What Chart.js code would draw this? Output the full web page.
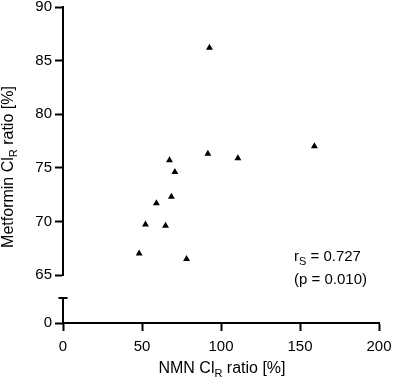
<!DOCTYPE html>
<html>
<head>
<meta charset="utf-8">
<script src="https://cdn.jsdelivr.net/npm/chart.js@4"></script>
<style>
  html, body { margin: 0; padding: 0; background: #fff; }
</style>
</head>
<body>
<canvas id="chart" width="393" height="383"></canvas>
<script>
// NMN ClR ratio [%] against metformin ClR ratio [%], one triangle per subject
const nmnRatio = [48.2, 52.2, 59.1, 64.9, 67.4, 68.6, 70.8, 78.2, 91.7, 92.7, 110.7, 159.1];
const metforminRatio = [67.0, 69.7, 71.7, 69.6, 75.7, 72.3, 74.6, 66.5, 76.3, 86.2, 75.9, 77.0];
const xTicks = [0, 50, 100, 150, 200];
const yTicksUpper = [65, 70, 75, 80, 85, 90];
const yTicksLower = [0];
const rsValue = '0.727';
const pValue = '(p = 0.010)';

const FONT = "'Liberation Sans', Arial, sans-serif";
const INK = '#000';
const lowerCap = 25; // top of the short axis piece under the break

function axisStyle() {
    return {
        grid: { drawOnChartArea: false, drawTicks: true, tickLength: 8, tickWidth: 2, tickColor: INK },
        border: { color: INK, width: 2 },
        ticks: { color: INK, font: { family: FONT, size: 15 }, padding: 3 }
    };
}

// draw text pieces [text, size, yShift] in a row
function drawPieces(ctx, pieces, x, y, align) {
    let total = 0;
    pieces.forEach(p => { ctx.font = p[1] + 'px ' + FONT; total += ctx.measureText(p[0]).width; });
    let cx = align === 'center' ? x - total / 2 : x;
    ctx.textAlign = 'left';
    ctx.textBaseline = 'alphabetic';
    pieces.forEach(p => {
        ctx.font = p[1] + 'px ' + FONT;
        ctx.fillText(p[0], cx, y + p[2]);
        cx += ctx.measureText(p[0]).width;
    });
}

const extras = {
    id: 'extras',
    afterDraw(chart) {
        const ctx = chart.ctx;
        const area = chart.chartArea;
        const low = chart.scales.y0;
        ctx.save();
        ctx.strokeStyle = INK;
        ctx.lineWidth = 2;
        const capY = low.getPixelForValue(lowerCap);
        const zeroY = low.getPixelForValue(0);
        ctx.beginPath();
        ctx.moveTo(area.left, capY - 1);
        ctx.lineTo(area.left, zeroY);
        ctx.moveTo(area.left - 4.5, capY);
        ctx.lineTo(area.left + 4.5, capY);
        ctx.stroke();

        ctx.fillStyle = INK;
        // x title
        drawPieces(ctx, [['NMN Cl', 16, 0], ['R', 11, 4], [' ratio [%]', 16, 0]], 222, 373, 'center');
        // y title
        ctx.save();
        ctx.translate(13, 167);
        ctx.rotate(-Math.PI / 2);
        drawPieces(ctx, [['Metformin Cl', 16, 0], ['R', 11, 4], [' ratio [%]', 16, 0]], 0, 0, 'center');
        ctx.restore();
        // correlation note
        drawPieces(ctx, [['r', 15, 0], ['S', 11, 4], [' = ' + rsValue, 15, 0]], 294, 261, 'left');
        drawPieces(ctx, [[pValue, 15, 0]], 294, 284, 'left');
        ctx.restore();
    }
};

const upper = axisStyle();
const lower = axisStyle();
lower.border = { display: false };
const xs = axisStyle();
xs.ticks.padding = 7;

new Chart(document.getElementById('chart'), {
    type: 'scatter',
    data: {
        datasets: [{
            data: nmnRatio.map((x, i) => ({ x: x, y: metforminRatio[i] })),
            yAxisID: 'y',
            pointStyle: 'triangle',
            pointRadius: 4,
            backgroundColor: INK,
            borderColor: INK,
            borderWidth: 0
        }]
    },
    options: {
        responsive: false,
        animation: false,
        devicePixelRatio: 1,
        layout: { padding: { top: 7, right: 14, left: 0, bottom: 0 } },
        plugins: { legend: { display: false }, tooltip: { enabled: false } },
        scales: {
            // left boxes are stacked in reverse order, so the lower piece comes first
            y0: Object.assign(lower, {
                type: 'linear', position: 'left', stack: 'left', stackWeight: 48,
                min: 0, max: 48,
                afterBuildTicks: s => { s.ticks = yTicksLower.map(v => ({ value: v })); },
                afterFit: s => { s.width = 63; s.paddingTop = 0; s.paddingBottom = 0; }
            }),
            y: Object.assign(upper, {
                type: 'linear', position: 'left', stack: 'left', stackWeight: 268,
                min: 65, max: 90,
                afterBuildTicks: s => { s.ticks = yTicksUpper.map(v => ({ value: v })); },
                afterFit: s => { s.width = 63; s.paddingTop = 0; s.paddingBottom = 0; }
            }),
            x: Object.assign(xs, {
                type: 'linear', min: 0, max: 200,
                afterBuildTicks: s => { s.ticks = xTicks.map(v => ({ value: v })); },
                afterFit: s => { s.height = 60; s.paddingLeft = 0; s.paddingRight = 0; }
            })
        }
    },
    plugins: [extras]
});
</script>
</body>
</html>
